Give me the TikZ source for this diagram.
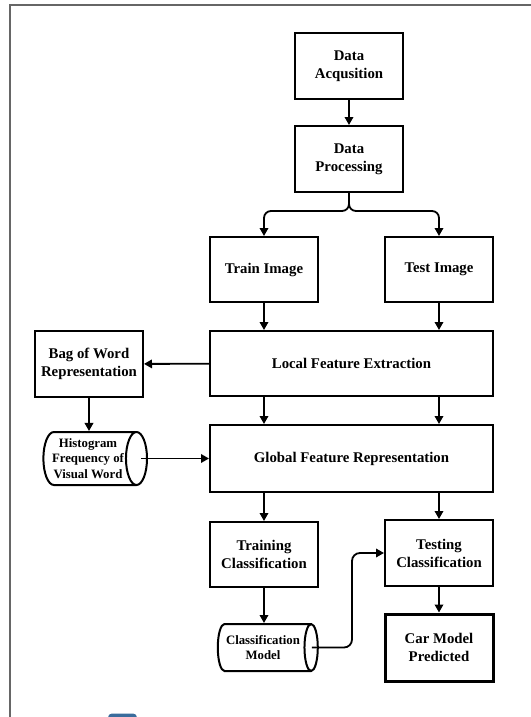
\documentclass[tikz,border=0pt]{standalone}
\usepackage{fontspec}
\setmainfont{Liberation Serif}
\usetikzlibrary{arrows.meta,shapes.geometric,calc}
\tikzset{
  box/.style={draw, line width=2pt, minimum width=108pt, minimum height=66pt, inner sep=2pt,
    align=center, font=\bfseries\fontsize{14.8}{18}\selectfont},
  wide/.style={box, minimum width=283pt},
  drum/.style={draw, line width=2pt, cylinder, aspect=0.5, minimum height=100pt, inner sep=1pt,
    align=center, font=\bfseries\fontsize{12.8}{15.5}\selectfont},
  arr/.style={line width=1.8pt, -{Triangle[length=8pt,width=8.5pt]}},
}
\begin{document}
\begin{tikzpicture}[x=1pt,y=-1pt]
\useasboundingbox (0,0) rectangle (530,717);
\fill[white] (0,0) rectangle (530,717);
% frame
\draw[line width=2pt, black!60] (10,720) -- (10,5) -- (535,5);
% blue tab at bottom
\fill[rounded corners=4pt, fill={rgb,255:red,58;green,108;blue,156}] (108,713.5) rectangle (137,730);

\node[box] (acq) at (349,66) {Data\\Acqusition};
\node[box] (proc) at (349,159) {Data\\Processing};
\node[box, minimum height=65pt] (train) at (264,269.5) {Train Image};
\node[box, minimum height=65pt] (test) at (439,269.5) {Test Image};
\node[wide, minimum height=65pt] (lfe) at (351.5,363.5) {Local Feature Extraction};
\node[box] (bow) at (89,364) {Bag of Word\\Representation};
\node[wide, minimum height=67pt] (gfr) at (351.5,458.5) {Global Feature Representation};
\node[drum, minimum width=53pt] (hist) at (88,458.5) {Histogram\\Frequency of\\Visual Word};
\node[box, minimum height=65pt] (trc) at (264,554.5) {Training\\Classification};
\node[box] (tec) at (439,553) {Testing\\Classification};
\node[drum, minimum width=47pt] (cm) at (263,647.5) {Classification\\Model};
\node[box, line width=3pt, minimum height=67pt] (car) at (439,647.5) {Car Model\\Predicted};

\draw[arr] (acq) -- (proc);
\draw[arr, rounded corners=7pt] (proc.south) -- ++(0,18) -| (train.north);
\draw[arr, rounded corners=7pt] (proc.south) -- ++(0,18) -| (test.north);
\draw[arr] (train) -- (train |- lfe.north);
\draw[arr] (test) -- (test |- lfe.north);
\draw[arr] (lfe) -- (bow);
\draw[arr] (bow.south) -- (bow.south |- hist.north);
\draw[arr] (lfe.south -| train) -- (gfr.north -| train);
\draw[arr] (lfe.south -| test) -- (gfr.north -| test);
\draw[arr] ([xshift=-7pt]hist.top) -- (gfr.west);
\draw[arr] (gfr.south -| trc) -- (trc);
\draw[arr] (gfr.south -| tec) -- (tec);
\draw[arr] (trc.south) -- (trc.south |- cm.north);
\draw[arr, rounded corners=8pt] ([xshift=-7pt]cm.top) -| ($(tec.west)+(-32,0)$) -- (tec.west);
\draw[arr] (tec) -- (car);
\end{tikzpicture}
\end{document}
